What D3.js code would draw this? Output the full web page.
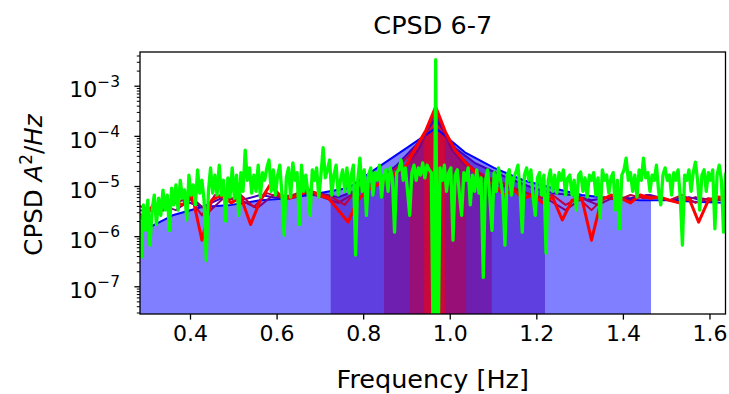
<!DOCTYPE html>
<html>
<head>
<meta charset="utf-8">
<script src="https://cdn.jsdelivr.net/npm/d3@7"></script>
<style>
body { margin: 0; background: #fff; }
text { font-family: "DejaVu Sans", sans-serif; fill: #000; }
</style>
</head>
<body>
<div id="chart"></div>
<script>
// ---- data ----
var titleText = "CPSD 6-7";
var xTicks = [0.4, 0.6, 0.8, 1.0, 1.2, 1.4, 1.6];
var yTicks = [1e-7, 1e-6, 1e-5, 1e-4, 1e-3];
var xLimits = [0.2845, 1.637];
var yLimits = [2.8e-8, 4.7e-3];

// raw cross spectrum (green), FFT bins from rawStart every rawStep Hz
var rawStart = 0.2825, rawStep = 0.005;
var rawVals = [
  // 0.28 - 0.42 Hz
  2.6e-6, 3.8e-7, 4.2e-6, 1.3e-6, 5.2e-6, 6.6e-7, 3.3e-6, 6.6e-6, 1.7e-6, 5.7e-6,
  2.6e-6, 8.3e-6, 3.3e-6, 6.6e-6, 1.3e-6, 9.1e-6, 4.2e-6, 1.05e-5, 3.3e-6, 1.3e-5,
  5.7e-6, 8.3e-6, 2.1e-6, 1.65e-5, 6.6e-6, 1.05e-5, 4.2e-6, 2.1e-5,
  // 0.42 - 0.58 Hz
  7.2e-6, 1.3e-5, 5.2e-6, 3.3e-7, 7.8e-6, 2.3e-5, 7.2e-6, 1.65e-5, 6.6e-6, 2.6e-5,
  6.6e-6, 1.3e-5, 2.0e-6, 1.45e-5, 6.0e-6, 2.3e-5, 5.7e-6, 1.65e-5, 2.6e-6, 1.85e-5,
  7.8e-6, 5.2e-5, 1.3e-5, 2.3e-5, 7.2e-6, 1.65e-5, 7.8e-6, 2.6e-5, 6.0e-6, 1.85e-5,
  1.3e-5, 2.3e-5, 3.3e-5,
  // 0.59 - 0.77 Hz
  7.8e-6, 2.1e-5, 6.6e-6, 1.65e-5, 2.6e-5, 6.6e-6, 1.05e-6, 1.45e-5, 2.3e-5, 6.0e-6,
  2.9e-5, 1.3e-5, 1.85e-5, 1.7e-6, 2.6e-5, 7.8e-6, 1.65e-5, 7.2e-6, 2.6e-6, 2.1e-5,
  1.3e-5, 2.3e-5, 6.0e-6, 1.65e-5, 5.8e-5, 1.45e-5, 2.1e-5, 3.3e-5, 6.6e-6, 1.65e-5,
  2.6e-5, 6.6e-6, 1.3e-5, 2.1e-5, 7.8e-6, 2.3e-5, 7.2e-6, 1.65e-5,
  // 0.78 - 0.96 Hz
  2.6e-5, 4.2e-7, 1.3e-5, 3.6e-5, 7.8e-6, 2.1e-5, 2.6e-6, 1.65e-5, 2.3e-5, 6.6e-6,
  1.85e-5, 1.3e-5, 2.6e-5, 6.0e-6, 1.65e-5, 2.1e-5, 7.8e-6, 2.3e-5, 1.45e-5, 1.2e-6,
  1.85e-5, 2.1e-5, 3.3e-5, 1.3e-5, 2.3e-5, 7.8e-6, 2.6e-6, 1.85e-5, 2.6e-5, 1.3e-5,
  2.3e-5, 1.65e-5, 2.9e-5, 1.45e-5, 2.6e-5, 2.1e-5, 1.85e-5,
  // resonance
  1e-9, 3.3e-3, 1e-9,
  // 0.98 - 1.15 Hz
  2.3e-5, 1.3e-5, 2.6e-5, 7.8e-6, 1.85e-5, 2.3e-5, 8.3e-7, 1.65e-5, 2.1e-5, 6.6e-6,
  2.6e-6, 1.85e-5, 1.3e-5, 2.3e-5, 4.2e-6, 1.65e-5, 7.8e-6, 2.1e-5, 7.2e-6, 1.45e-5,
  1.5e-7, 1.3e-5, 2.1e-5, 6.0e-6, 1.3e-6, 1.85e-5, 7.8e-6, 2.3e-5, 1.3e-5, 6.6e-6,
  6.6e-7, 1.65e-5, 2.1e-5, 6.6e-6, 1.45e-5, 1.85e-5, 2.6e-5,
  // 1.16 - 1.39 Hz
  7.8e-6, 1.2e-6, 1.65e-5, 2.3e-5, 1.3e-5, 2.1e-5, 6.0e-6, 2.6e-6, 1.45e-5, 1.85e-5,
  6.6e-6, 1.65e-5, 4.6e-7, 1.3e-5, 2.1e-5, 7.8e-6, 1.65e-5, 7.2e-6, 1.85e-5, 1.3e-5,
  2.1e-5, 6.6e-6, 1.45e-5, 1.65e-5, 6.6e-6, 1.3e-5, 3.3e-6, 1.65e-5, 1.9e-5, 7.8e-6,
  1.45e-5, 6.0e-6, 1.65e-5, 1.3e-5, 1.85e-5, 6.6e-6, 1.45e-5, 2.3e-6, 2.1e-5, 1.3e-5,
  1.65e-5, 7.2e-6, 1.45e-5, 1.85e-5, 3.3e-6, 1.3e-5, 1.4e-6,
  // 1.39 - 1.64 Hz
  1.65e-5, 2.1e-5, 3.6e-5, 1.3e-5, 1.85e-5, 7.8e-6, 1.65e-5, 6.0e-6, 2.1e-5, 1.3e-5,
  3.6e-5, 1.45e-5, 1.85e-5, 7.8e-6, 1.65e-5, 1.3e-5, 2.6e-5, 7.8e-6, 4.2e-6, 1.65e-5,
  2.3e-5, 1.3e-5, 1.65e-5, 6.6e-6, 1.85e-5, 1.3e-5, 2.1e-5, 6.0e-6, 6.6e-7, 1.65e-5,
  1.3e-5, 2.1e-5, 7.8e-6, 1.85e-5, 3.0e-5, 1.3e-5, 3.3e-6, 1.65e-5, 2.1e-5, 7.8e-6,
  1.85e-5, 1.3e-5, 2.1e-5, 1.4e-6, 1.65e-5, 2.6e-5, 1.3e-5, 1.2e-6, 1.85e-5
];

// smoothed spectra, coarse (blue) to fine (red), each on its own bin grid
var smoothStart = [0.225, 0.2475, 0.255, 0.2775, 0.27];
var smoothStep  = [0.0675, 0.045, 0.0375, 0.03, 0.0225];
var smooth0 = [6e-7, 1.3e-6, 2.6e-6, 3.8e-6, 4.2e-6, 5.2e-6, 5.7e-6, 7.2e-6, 9.1e-6, 2.3e-5, 5.7e-5,
  1.43e-4, 4.7e-5, 2.3e-5, 1.3e-5, 9.1e-6, 6.6e-6, 5.7e-6, 5.2e-6, 5.2e-6, 4.8e-6, 4.6e-6];
var smooth1 = [3.0e-6, 3.3e-6, 4.2e-6, 5.2e-6, 3.8e-6, 5.7e-6, 5.2e-6, 6.6e-6, 5.7e-6, 6.6e-6, 7.2e-6,
  6.0e-6, 8.3e-6, 1.3e-5, 2.6e-5, 6.6e-5, 2.2e-4, 5.7e-5, 2.9e-5, 1.9e-5, 1.3e-5, 9.1e-6, 7.2e-6,
  6.6e-6, 5.2e-6, 6.0e-6, 5.7e-6, 6.6e-6, 5.2e-6, 6.0e-6, 4.8e-6, 5.7e-6];
var smooth2 = [3.3e-6, 2.6e-6, 4.2e-6, 3.3e-6, 5.7e-6, 3.0e-6, 6.0e-6, 5.2e-6, 3.6e-6, 6.6e-6, 6.0e-6,
  7.2e-6, 6.0e-6, 4.6e-6, 7.2e-6, 9.1e-6, 1.3e-5, 2.1e-5, 5.7e-5, 3.0e-4, 5.2e-5, 2.3e-5, 1.5e-5,
  1.05e-5, 8.3e-6, 6.6e-6, 5.2e-6, 3.3e-6, 5.7e-6, 4.2e-6, 6.0e-6, 5.2e-6, 6.6e-6, 5.7e-6, 4.6e-6,
  6.0e-6, 5.2e-6, 6.0e-6];
var smooth3 = [4.2e-6, 3.3e-6, 5.2e-6, 4.6e-6, 6.0e-6, 2.6e-6, 6.6e-6, 5.2e-6, 6.6e-6, 3.8e-6, 7.2e-6,
  6.0e-6, 6.6e-6, 8.3e-6, 7.2e-6, 6.0e-6, 4.2e-6, 9.1e-6, 1.05e-5, 1.5e-5, 2.3e-5, 4.2e-5, 9.0e-5,
  3.4e-4, 8.0e-5, 3.6e-5, 2.1e-5, 1.5e-5, 1.2e-5, 9.1e-6, 7.2e-6, 6.0e-6, 6.6e-6, 4.2e-6, 5.7e-6,
  3.3e-6, 6.0e-6, 5.2e-6, 6.6e-6, 5.7e-6, 6.0e-6, 5.2e-6, 6.6e-6, 4.6e-6, 5.7e-6, 5.2e-6, 6.0e-6];
var smooth4 = [3.3e-6, 2.1e-6, 4.2e-6, 3.3e-6, 5.2e-6, 4.2e-6, 6.6e-6, 8.3e-7, 5.2e-6, 6.6e-6, 4.6e-6,
  6.0e-6, 1.7e-6, 5.2e-6, 1.05e-5, 6.6e-6, 5.7e-6, 6.6e-6, 8.3e-6, 6.6e-6, 5.7e-6, 3.3e-6, 1.9e-6,
  5.2e-6, 8.3e-6, 1.05e-5, 1.3e-5, 1.9e-5, 2.6e-5, 6.0e-5, 1.3e-4, 3.8e-4, 1.2e-4, 5.2e-5, 3.0e-5,
  1.9e-5, 1.3e-5, 1.05e-5, 6.6e-6, 8.3e-6, 5.7e-6, 6.6e-6, 4.6e-6, 6.0e-6, 2.1e-6, 5.2e-6, 5.7e-6,
  8.3e-7, 5.2e-6, 6.6e-6, 5.7e-6, 4.6e-6, 6.6e-6, 5.7e-6, 6.0e-6, 5.2e-6, 4.6e-6, 5.7e-6, 1.9e-6,
  5.2e-6, 6.0e-6, 5.7e-6];

// frequency bands that are shaded under each smoothed spectrum
var bandLo = [0.2, 0.725, 0.848, 0.908, 0.941];
var bandHi = [1.465, 1.220, 1.097, 1.038, 0.989];
var bandColors = ["rgb(0,0,255)", "rgb(64,0,191)", "rgb(128,0,128)", "rgb(191,0,64)", "rgb(255,0,0)"];

// ---- layout ----
var margin = {top: 52, right: 3.5, bottom: 80, left: 140},
    width = 729 - margin.left - margin.right,
    height = 394 - margin.top - margin.bottom;

var svg = d3.select("#chart")
  .append("svg")
    .attr("width", 729)
    .attr("height", 394)
  .append("g")
    .attr("transform", "translate(" + margin.left + "," + margin.top + ")");

var x = d3.scaleLinear().domain(xLimits).range([0, width]);
var y = d3.scaleLog().domain(yLimits).range([height, 0]);

svg.append("clipPath").attr("id", "plotclip")
  .append("rect").attr("width", width).attr("height", height);

var smoothSets = [smooth0, smooth1, smooth2, smooth3, smooth4].map(function(vals, i) {
  return vals.map(function(v, k) { return {f: smoothStart[i] + k * smoothStep[i], v: v}; });
});
var rawData = rawVals.map(function(v, i) { return {f: rawStart + i * rawStep, v: v}; });

// shaded bands, area under each smoothed curve
var area = d3.area()
  .x(function(d) { return x(d.f); })
  .y0(height)
  .y1(function(d) { return y(d.v); });

smoothSets.forEach(function(set, i) {
  var x0 = Math.max(0, x(bandLo[i])), x1 = Math.min(width, x(bandHi[i]));
  svg.append("clipPath").attr("id", "band" + i)
    .append("rect").attr("x", x0).attr("y", 0).attr("width", x1 - x0).attr("height", height);
  svg.append("path")
    .datum(set)
    .attr("clip-path", "url(#band" + i + ")")
    .attr("fill", bandColors[i])
    .attr("fill-opacity", 0.5)
    .attr("d", area);
});

var line = d3.line()
  .x(function(d) { return x(d.f); })
  .y(function(d) { return y(d.v); });

var lines = svg.append("g").attr("clip-path", "url(#plotclip)");

smoothSets.forEach(function(set, i) {
  lines.append("path")
    .datum(set)
    .attr("fill", "none")
    .attr("stroke", bandColors[i])
    .attr("stroke-width", i == 4 ? 3 : 2)
    .attr("stroke-linejoin", "round")
    .attr("d", line);
});

lines.append("path")
  .datum(rawData)
  .attr("fill", "none")
  .attr("stroke", "#00ff00")
  .attr("stroke-width", 3.3)
  .attr("stroke-linejoin", "round")
  .attr("d", line);

// ---- axes ----
var xAxis = svg.append("g")
  .attr("transform", "translate(0," + height + ")")
  .call(d3.axisBottom(x).tickValues(xTicks).tickFormat(d3.format(".1f"))
        .tickSize(5.6).tickPadding(5.8).tickSizeOuter(0));
xAxis.select(".domain").remove();
xAxis.selectAll("line").attr("stroke-width", 1.3);
xAxis.selectAll("text").style("font-size", "22px").style("font-family", "DejaVu Sans");

var minorTicks = [];
[-8, -7, -6, -5, -4, -3].forEach(function(e) {
  [2, 3, 4, 5, 6, 7, 8, 9].forEach(function(m) {
    var v = m * Math.pow(10, e);
    if (v > yLimits[0] && v < yLimits[1]) minorTicks.push(v);
  });
});

var yMinor = svg.append("g")
  .call(d3.axisLeft(y).tickValues(minorTicks).tickFormat("").tickSize(3.2).tickSizeOuter(0));
yMinor.select(".domain").remove();
yMinor.selectAll("line").attr("stroke-width", 1);

var yAxis = svg.append("g")
  .call(d3.axisLeft(y).tickValues(yTicks).tickFormat("").tickSize(5.6).tickSizeOuter(0));
yAxis.select(".domain").remove();
yAxis.selectAll("line").attr("stroke-width", 1.3);

// tick labels as 10^n
yTicks.forEach(function(v) {
  var t = svg.append("text")
    .attr("x", -20)
    .attr("y", y(v) + 11.7)
    .attr("text-anchor", "end")
    .style("font-size", "22px");
  t.append("tspan").text("10");
  t.append("tspan")
    .attr("dy", -10.5)
    .style("font-size", "15.4px")
    .text("\u2212" + Math.round(-Math.log10(v)));
});

// frame
svg.append("rect")
  .attr("width", width)
  .attr("height", height)
  .attr("fill", "none")
  .attr("stroke", "#000")
  .attr("stroke-width", 1.3);

// ---- labels ----
svg.append("text")
  .attr("x", width / 2)
  .attr("y", 34 - margin.top)
  .attr("text-anchor", "middle")
  .style("font-size", "25.5px")
  .text(titleText);

svg.append("text")
  .attr("x", width / 2)
  .attr("y", 388 - margin.top)
  .attr("text-anchor", "middle")
  .style("font-size", "25.5px")
  .text("Frequency [Hz]");

var yl = svg.append("text")
  .attr("transform", "translate(" + (42 - margin.left) + "," + (185 - margin.top) + ") rotate(-90)")
  .attr("text-anchor", "middle")
  .style("font-size", "24.5px");
yl.append("tspan").text("CPSD ");
yl.append("tspan").style("font-style", "italic").text("A");
yl.append("tspan").attr("dy", -10).style("font-size", "17px").text("2");
yl.append("tspan").attr("dy", 10).text("/");
yl.append("tspan").style("font-style", "italic").text("Hz");
</script>
</body>
</html>
